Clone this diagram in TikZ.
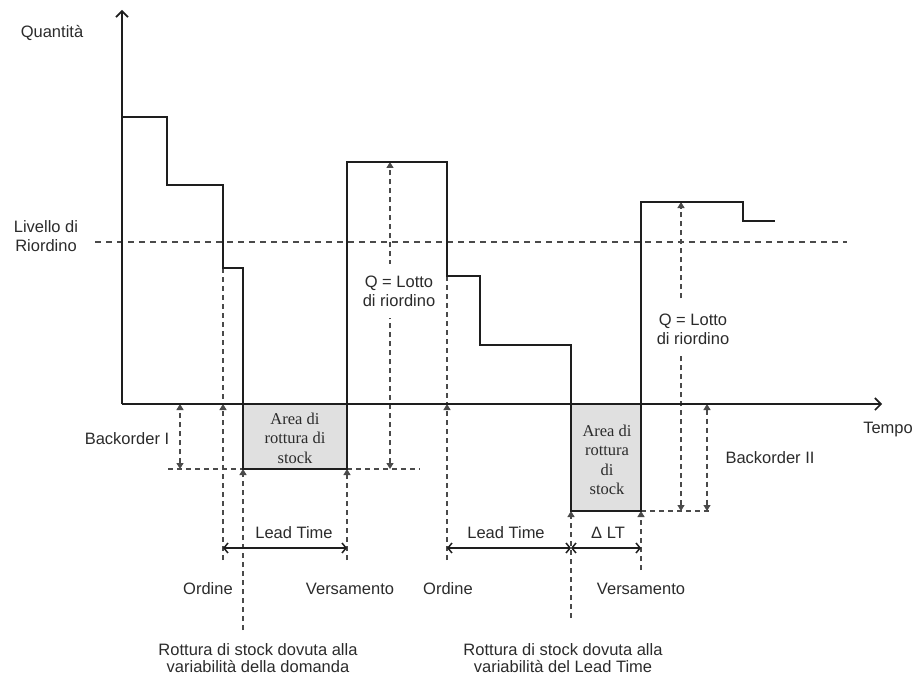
\documentclass[tikz,border=0pt]{standalone}
\usepackage{fontspec}
\setmainfont{Liberation Sans}
\newfontfamily\boxfont{Liberation Serif}
\usetikzlibrary{arrows.meta}

\definecolor{ink}{HTML}{1E1E1E}
\definecolor{dashgray}{HTML}{4A4A4A}
\definecolor{areagray}{HTML}{E0E0E0}
\definecolor{txt}{HTML}{2B2B2B}

\begin{document}
\begin{tikzpicture}[x=1pt,y=-1pt,
  lbl/.style={font=\fontsize{16.5}{19}\selectfont, text=txt, inner sep=0pt, align=center},
  lowlbl/.style={lbl, font=\fontsize{16.5}{17.5}\selectfont},
  arealbl/.style={font=\boxfont\fontsize{16.5}{19.5}\selectfont, text=txt, inner sep=0pt, align=center},
  axis/.style={draw=ink, line width=1.9pt, -{Straight Barb[length=6pt,width=12pt,line width=1.6pt]}},
  level/.style={draw=ink, line width=2.1pt, line join=miter},
  guide/.style={draw=dashgray, line width=1.3pt, dash pattern=on 5pt off 4pt},
  reorder/.style={draw=dashgray, line width=1.3pt, dash pattern=on 6pt off 5pt},
  tip/.style={-{Triangle[length=6pt,width=7pt]}},
  tips/.style={{Triangle[length=6pt,width=7pt]}-{Triangle[length=6pt,width=7pt]}},
  span/.style={draw=ink, line width=1.5pt,
    {Straight Barb[length=4pt,width=10pt,line width=1.5pt]}-{Straight Barb[length=4pt,width=10pt,line width=1.5pt]}},
  qlbl/.style={lbl, fill=white, inner xsep=1pt, minimum height=54pt}
]
\useasboundingbox (0,0) rectangle (915,679);

% axes and reorder level
\coordinate (O) at (122,404);
\coordinate (Ytop) at (122,10);
\coordinate (Xend) at (882,404);
\coordinate (RLa) at (95,242);
\coordinate (RLb) at (847,242);

% corners of the stock level curve
\coordinate (s0) at (122,117);
\coordinate (s1) at (167,117);
\coordinate (s2) at (167,185);
\coordinate (s3) at (223,185);
\coordinate (s4) at (223,268);
\coordinate (s5) at (243,268);
\coordinate (s6) at (243,469);
\coordinate (s7) at (347,469);
\coordinate (s8) at (347,162);
\coordinate (s9) at (447,162);
\coordinate (s10) at (447,276);
\coordinate (s11) at (480,276);
\coordinate (s12) at (480,345);
\coordinate (s13) at (571,345);
\coordinate (s14) at (571,511);
\coordinate (s15) at (641,511);
\coordinate (s16) at (641,202);
\coordinate (s17) at (743,202);
\coordinate (s18) at (743,221);
\coordinate (s19) at (775,221);

% stock-out areas
\coordinate (A1) at (243,404);
\coordinate (A2) at (571,404);
\fill[areagray] (A1) rectangle (s7);
\fill[areagray] (A2) rectangle (s15);

% points used by the guide lines
\coordinate (ord1) at (223,404);
\coordinate (ord1b) at (223,560);
\coordinate (bo1a) at (180,404);
\coordinate (bo1b) at (180,469);
\coordinate (h1a) at (168,469);
\coordinate (h1b) at (420,469);
\coordinate (q1a) at (390,469);
\coordinate (q1b) at (390,162);
\coordinate (ver1) at (347,560);
\coordinate (rot1) at (243,630);
\coordinate (ord2) at (447,404);
\coordinate (ord2b) at (447,560);
\coordinate (rot2) at (571,618);
\coordinate (ver2) at (641,570);
\coordinate (h2b) at (712,511);
\coordinate (q2a) at (681,511);
\coordinate (q2b) at (681,202);
\coordinate (bo2a) at (707,404);
\coordinate (bo2b) at (707,511);

% reorder level
\draw[reorder] (RLa) -- (RLb);

% dashed guides
\draw[guide] (s4) -- (ord1);
\draw[guide, tip] (ord1b) -- (ord1);
\draw[guide, tips] (bo1b) -- (bo1a);
\draw[guide] (h1a) -- (s6);
\draw[guide] (s7) -- (h1b);
\draw[guide, tips] (q1a) -- (q1b);
\draw[guide, tip] (ver1) -- (s7);
\draw[guide, tip] (rot1) -- (s6);
\draw[guide] (s10) -- (ord2);
\draw[guide, tip] (ord2b) -- (ord2);
\draw[guide, tip] (rot2) -- (s14);
\draw[guide, tip] (ver2) -- (s15);
\draw[guide] (s15) -- (h2b);
\draw[guide, tips] (q2a) -- (q2b);
\draw[guide, tips] (bo2a) -- (bo2b);

% axes
\draw[axis] (O) -- (Ytop);
\draw[axis] (O) -- (Xend);

% stock level
\draw[level] (s0) -- (s1) -- (s2) -- (s3) -- (s4) -- (s5) -- (s6) -- (s7)
  -- (s8) -- (s9) -- (s10) -- (s11) -- (s12) -- (s13) -- (s14) -- (s15)
  -- (s16) -- (s17) -- (s18) -- (s19);

% lead time spans
\coordinate (lt1a) at (223,548);
\coordinate (lt1b) at (347,548);
\coordinate (lt2a) at (447,548);
\coordinate (lt2b) at (571,548);
\coordinate (lt2c) at (641,548);
\draw[span] (lt1a) -- (lt1b);
\draw[span] (lt2a) -- (lt2b);
\draw[span] (lt2b) -- (lt2c);

% labels
\node[lbl] (quant) at (52,33) {Quantità};
\node[lbl] (liv) at (46,236) {Livello di\\Riordino};
\node[lbl] (tempo) at (888,430) {Tempo};
\node[lbl] (bo1) at (127,439) {Backorder I};
\node[lbl] (bo2) at (770,458) {Backorder II};
\node[qlbl] (q1) at (399,291) {Q = Lotto\\di riordino};
\node[qlbl] (q2) at (693,329) {Q = Lotto\\di riordino};
\node[arealbl] (area1) at (295,438) {Area di\\rottura di\\stock};
\node[arealbl] (area2) at (607,460) {Area di\\rottura\\di\\stock};
\node[lbl] (lt1) at (294,533) {Lead Time};
\node[lbl] (lt2) at (506,533) {Lead Time};
\node[lbl] (dlt) at (608,533) {Δ LT};
\node[lbl] (o1) at (208,589) {Ordine};
\node[lbl] (v1) at (350,589) {Versamento};
\node[lbl] (o2) at (448,589) {Ordine};
\node[lbl] (v2) at (641,589) {Versamento};
\node[lowlbl] (r1) at (258,658) {Rottura di stock dovuta alla\\variabilità della domanda};
\node[lowlbl] (r2) at (563,658) {Rottura di stock dovuta alla\\variabilità del Lead Time};
\end{tikzpicture}
\end{document}
